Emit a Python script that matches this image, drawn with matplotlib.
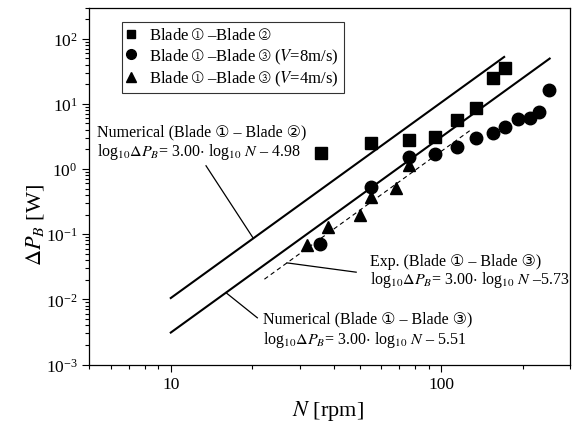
import numpy as np
import matplotlib.pyplot as plt
from matplotlib.lines import Line2D
from matplotlib.ticker import LogLocator, NullFormatter

plt.rcParams['font.family'] = ['Liberation Serif', 'DejaVu Sans']
plt.rcParams['mathtext.fontset'] = 'stix'

N_sq = [35.9, 55.2, 76.1, 95.3, 114.6, 134.0, 155.2, 173.0]
P_sq = [1.73, 2.49, 2.80, 3.11, 5.61, 8.57, 25.3, 36.0]

N_ci = [35.5, 55.2, 76.2, 95.3, 114.6, 134.0, 155.2, 173.0, 192.8, 212.8, 229.7, 250.3]
P_ci = [0.070, 0.52, 1.51, 1.69, 2.14, 2.94, 3.51, 4.43, 5.81, 6.01, 7.52, 16.3]

N_tr = [31.9, 38.1, 49.9, 55.2, 68.1, 76.2]
P_tr = [0.069, 0.128, 0.197, 0.367, 0.505, 1.15]

# fitted lines: log10 dP = 3.00 log10 N + c
slope = 3.00
c_num12 = -4.98
c_num13 = -5.51
c_exp13 = -5.73
N_num12 = [10, 171]
N_num13 = [10, 252]
N_exp13 = [22.2, 130]


def fit(N, c):
    N = np.array(N, dtype=float)
    return N, 10 ** (slope * np.log10(N) + c)


fig = plt.figure(figsize=(5.73, 4.27), dpi=100)
ax = fig.add_axes([0.156, 0.144, 0.839, 0.836])

x, y = fit(N_num12, c_num12)
ax.plot(x, y, color='black', lw=1.5)
x, y = fit(N_num13, c_num13)
ax.plot(x, y, color='black', lw=1.5)
x, y = fit(N_exp13, c_exp13)
ax.plot(x, y, color='black', lw=0.8, ls=(0, (4, 3)))

ax.plot(N_sq, P_sq, 's', color='black', ms=8, ls='none')
ax.plot(N_ci, P_ci, 'o', color='black', ms=9, ls='none')
ax.plot(N_tr, P_tr, '^', color='black', ms=9, ls='none')

ax.set_xscale('log')
ax.set_yscale('log')
ax.set_xlim(5, 300)
ax.set_ylim(1e-3, 300)

ax.xaxis.set_minor_locator(LogLocator(base=10, subs=np.arange(2, 10), numticks=20))
ax.xaxis.set_minor_formatter(NullFormatter())
ax.set_xticks([10, 100])
ax.set_xticklabels(['10', '100'])
ax.yaxis.set_minor_locator(LogLocator(base=10, subs=np.arange(2, 10), numticks=20))
ax.yaxis.set_minor_formatter(NullFormatter())

ax.tick_params(which='both', direction='out', labelsize=12.5, width=0.8)
ax.tick_params(which='major', length=5)
ax.tick_params(which='minor', length=3)
for s in ax.spines.values():
    s.set_linewidth(0.9)

ax.set_xlabel(r'$\mathit{N}$ [rpm]', fontsize=16)
ax.set_ylabel(r'$\mathit{\Delta P_B}$ [W]', fontsize=16)
ax.xaxis.set_label_coords(0.497, -0.095)
ax.yaxis.set_label_coords(-0.09, 0.394)

# annotations
fs = 11.5
eq = r'log$_{10}$$\mathit{\Delta P_B}$= 3.00$\cdot$ log$_{10}$ $\mathit{N}$ '

ax.text(5.32, 3.72, 'Numerical (Blade \u2460 \u2013 Blade \u2461)', fontsize=fs, va='center')
ax.text(5.32, 1.90, eq + '\u2013 4.98', fontsize=fs, va='center')
ax.plot([13.5, 20.2], [1.12, 10 ** (slope * np.log10(20.2) + c_num12)], color='black', lw=0.9)

ax.text(54.4, 0.0385, 'Exp. (Blade \u2460 \u2013 Blade \u2462)', fontsize=fs, va='center')
ax.text(54.4, 0.0206, eq + '\u20135.73', fontsize=fs, va='center')
ax.plot([26.9, 48.5], [10 ** (slope * np.log10(26.9) + c_exp13), 0.0261], color='black', lw=0.9)

ax.text(21.9, 0.00502, 'Numerical (Blade \u2460 \u2013 Blade \u2462)', fontsize=fs, va='center')
ax.text(21.9, 0.00248, eq + '\u2013 5.51', fontsize=fs, va='center')
ax.plot([16.0, 20.9], [10 ** (slope * np.log10(16.0) + c_num13), 0.00521], color='black', lw=0.9)

handles = [
    Line2D([], [], marker='s', color='black', ls='none', ms=6),
    Line2D([], [], marker='o', color='black', ls='none', ms=7),
    Line2D([], [], marker='^', color='black', ls='none', ms=7),
]
labels = [
    'Blade $\u2460$ \u2013Blade $\u2461$',
    'Blade $\u2460$ \u2013Blade $\u2462$ ($\\mathit{V}$=8m/s)',
    'Blade $\u2460$ \u2013Blade $\u2462$ ($\\mathit{V}$=4m/s)',
]
leg = ax.legend(handles, labels, loc='upper left', bbox_to_anchor=(0.0687, 0.9585),
                borderaxespad=0, fontsize=12, frameon=True, fancybox=False,
                handletextpad=0.9, labelspacing=0.2, borderpad=0.3, handlelength=0.4)
leg.get_frame().set_edgecolor('black')
leg.get_frame().set_linewidth(0.8)

fig.savefig('out.png', dpi=100)
